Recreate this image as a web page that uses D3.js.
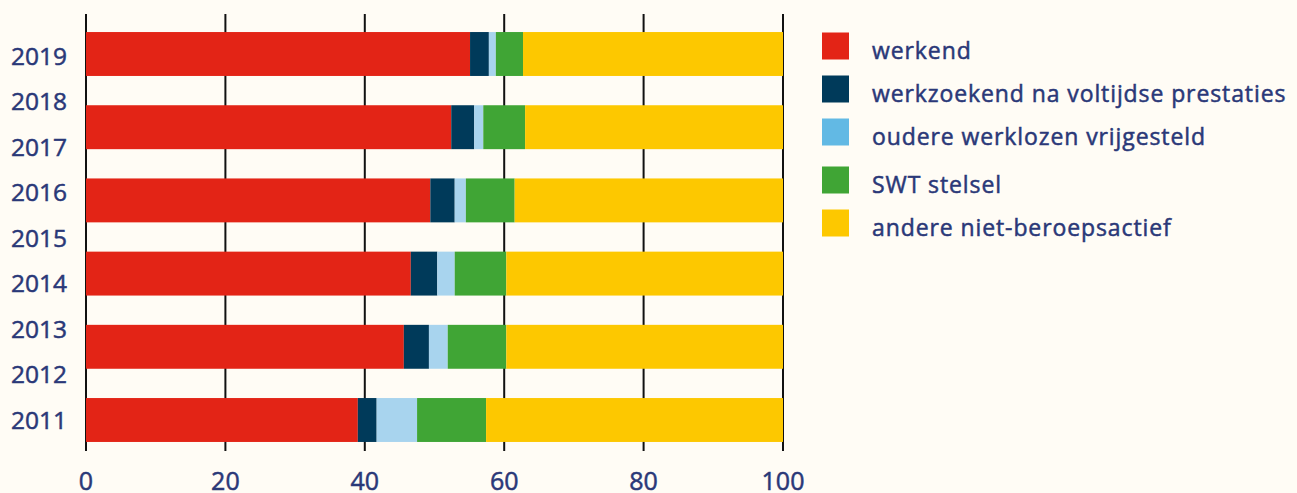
<!DOCTYPE html>
<html>
<head>
<meta charset="utf-8">
<script src="https://cdn.jsdelivr.net/npm/d3@7"></script>
<style>
  body { margin: 0; background: #fffcf5; }
  svg { display: block; }
</style>
</head>
<body>
<svg id="chart" width="1297" height="493"></svg>
<script>
// data
const barYears = ["2019", "2017", "2016", "2014", "2013", "2011"];
const yearLabels = ["2019", "2018", "2017", "2016", "2015", "2014", "2013", "2012", "2011"];
const seriesNames = ["werkend", "werkzoekend na voltijdse prestaties", "oudere werklozen vrijgesteld", "SWT stelsel", "andere niet-beroepsactief"];
const werkend     = [55.1, 52.4, 49.4, 46.6, 45.6, 39.0];
const werkzoekend = [2.7, 3.3, 3.5, 3.8, 3.6, 2.7];
const ouderen     = [1.0, 1.3, 1.6, 2.5, 2.7, 5.8];
const swt         = [3.9, 6.0, 7.0, 7.4, 8.4, 9.9];
const andere      = [37.3, 37.0, 38.5, 39.7, 39.7, 42.6];
const xTicks = [0, 20, 40, 60, 80, 100];

const barColors = ["#e32416", "#003a5a", "#a8d4ee", "#40a535", "#fdc800"];
const legendColors = ["#e32416", "#003a5a", "#62b9e4", "#40a535", "#fdc800"];
const textColor = "#2a3878";
const font = "'Open Sans', sans-serif";

let svg = d3.select("#chart");

let x = d3.scaleLinear().domain([0, 100]).range([86, 783]);
let y = d3.scaleBand().domain(barYears).range([32 - 14.6, 442 + 14.6]).paddingInner(0.4).paddingOuter(0.2);
let yLab = d3.scalePoint().domain(yearLabels).range([55, 419]);

// gridlines
svg.append("g")
  .selectAll("line")
  .data(xTicks)
  .join("line")
  .attr("x1", d => x(d))
  .attr("x2", d => x(d))
  .attr("y1", 14)
  .attr("y2", 451)
  .style("stroke", "#111")
  .style("stroke-width", 2);

// stacked bars
let rows = barYears.map((yr, i) => ({
  year: yr,
  values: [werkend[i], werkzoekend[i], ouderen[i], swt[i], andere[i]]
}));

for (let row of rows) {
  let start = 0;
  row.values.forEach((v, k) => {
    let end = Math.min(100, start + v);
    svg.append("rect")
      .attr("x", x(start))
      .attr("y", y(row.year))
      .attr("width", x(end) - x(start))
      .attr("height", y.bandwidth())
      .style("fill", barColors[k]);
    start = end;
  });
}

// year labels
svg.append("g")
  .selectAll("text")
  .data(yearLabels)
  .join("text")
  .attr("x", 67)
  .attr("y", d => yLab(d))
  .text(d => d)
  .style("text-anchor", "end")
  .style("dominant-baseline", "central")
  .style("font-family", font)
  .style("font-size", 24.5)
  .style("fill", textColor)
  .style("stroke", textColor)
  .style("stroke-width", 0.5);

// x tick labels
svg.append("g")
  .selectAll("text")
  .data(xTicks)
  .join("text")
  .attr("x", d => x(d))
  .attr("y", 480)
  .text(d => d)
  .style("text-anchor", "middle")
  .style("dominant-baseline", "central")
  .style("font-family", font)
  .style("font-size", 25)
  .style("fill", textColor)
  .style("stroke", textColor)
  .style("stroke-width", 0.5);

// legend
let legendY = [46, 89, 132, 180, 223];
seriesNames.forEach((name, k) => {
  svg.append("rect")
    .attr("x", 822)
    .attr("y", legendY[k] - 13.5)
    .attr("width", 27)
    .attr("height", 27)
    .style("fill", legendColors[k]);
  svg.append("text")
    .attr("x", 872)
    .attr("y", legendY[k] + 4)
    .text(name)
    .style("dominant-baseline", "central")
    .style("font-family", font)
    .style("font-size", 23)
    .style("letter-spacing", "0.9px")
    .style("fill", textColor)
    .style("stroke", textColor)
    .style("stroke-width", 0.5);
});
</script>
</body>
</html>
